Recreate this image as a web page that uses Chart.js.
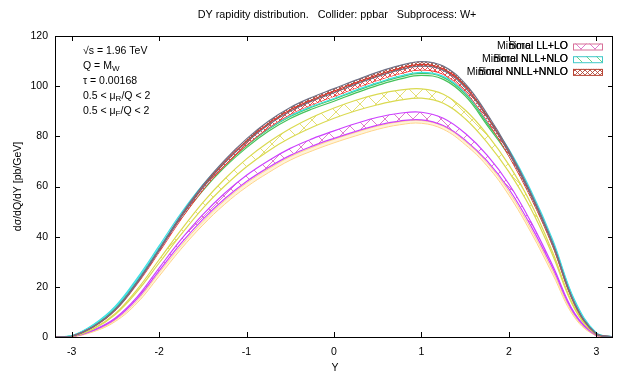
<!DOCTYPE html>
<html>
<head>
<meta charset="utf-8">
<script src="https://cdn.jsdelivr.net/npm/chart.js@4.4.1/dist/chart.umd.min.js"></script>
<style>
  html, body { margin: 0; padding: 0; background: #fff; }
  #wrap { width: 628px; height: 377px; position: relative; }
</style>
</head>
<body>
<div id="wrap"><canvas id="dyChart"></canvas></div>
<script>
/* DY rapidity distribution, W+ at the Tevatron - bands */

const rapidity = [-3.19, -3, -2.75, -2.5, -2.25, -2, -1.75, -1.5, -1.25, -1, -0.75, -0.5, -0.25,
                  0, 0.25, 0.5, 0.75, 1, 1.25, 1.5, 1.75, 2, 2.25, 2.5, 2.75, 3, 3.19];

const orangeUp  = [0, 0.08, 2.4, 6.8, 14.6, 25.6, 36.4, 46, 54.4, 61.4, 67, 71.9, 75.6, 78.8, 81.6, 84.1, 85.8, 86.3, 84, 78, 69.5, 58, 43.2, 26.4, 8.5, 0.5, 0];
const orangeLow = [0, 0.05, 2.1, 6.2, 13.6, 24.2, 35, 44.6, 52.9, 59.8, 65.5, 70.5, 74.2, 77.4, 80.2, 82.8, 84.6, 85.2, 82.8, 76.7, 68.2, 56.5, 41.8, 25, 7.8, 0.4, 0];

const magentaUp  = [0, 0.1, 2.8, 7.6, 16, 27.5, 38.8, 48.8, 57.3, 64.5, 70.3, 75.2, 79, 82.2, 85.1, 87.6, 89.2, 89.6, 87.2, 81.2, 72.5, 61, 46, 28.5, 9.5, 0.7, 0];
const magentaLow = [0, 0.1, 2.6, 7.2, 15.3, 26.4, 37.3, 46.9, 55.1, 62, 67.6, 72.4, 76.1, 79.2, 82, 84.5, 86.1, 86.6, 84.3, 78.5, 70.2, 59, 44.4, 27.5, 9.1, 0.6, 0];

const yellowUp  = [0, 0.2, 3.4, 9.4, 19, 30.8, 42.6, 53.6, 63, 71, 77.6, 83.1, 87.6, 91.3, 94.4, 96.8, 98.4, 98.9, 96.8, 90.5, 80.8, 68.6, 53.3, 33.8, 11.8, 0.9, 0];
const yellowLow = [0, 0.15, 3.2, 9, 18.2, 29.5, 40.8, 51.3, 60.2, 67.9, 74.2, 79.4, 83.6, 87.2, 90.2, 92.6, 94.4, 95.2, 93.2, 87, 77.6, 65.8, 51.2, 32.6, 11.3, 0.85, 0];

const greenUp  = [0, 0.4, 4.5, 11.5, 22.4, 35, 47.8, 59.1, 68.4, 76.2, 82.8, 87.9, 91.7, 94.8, 98.1, 101.1, 103.6, 105.1, 103.5, 96.9, 85.3, 73, 56.6, 37.2, 13.8, 1.3, 0];
const greenLow = [0, 0.35, 4.3, 11.2, 22, 34.5, 47.2, 58.4, 67.7, 75.5, 82, 87.1, 90.9, 94, 97.3, 100.3, 102.8, 104.3, 102.7, 96.1, 84.5, 72.2, 55.8, 36.6, 13.4, 1.25, 0];

const cyanUp  = [0, 0.5, 5.0, 12.3, 23.5, 36.3, 49.3, 60.6, 70, 78, 84.6, 89.7, 93.6, 96.7, 100, 103, 105.6, 107.2, 105.6, 99, 87.5, 74.8, 58.5, 38.8, 14.8, 1.6, 0];
const cyanLow = [0, 0.45, 4.8, 11.9, 22.9, 35.5, 48.3, 59.5, 68.8, 76.6, 83.1, 88.2, 92, 95.1, 98.4, 101.4, 104, 105.5, 103.9, 97.4, 86, 73.6, 57.5, 38, 14.4, 1.5, 0];

const redUp  = [0, 0.3, 4.15, 10.9, 21.8, 34.7, 48, 59.9, 69.8, 78.2, 85.1, 90.6, 94.6, 98, 101.4, 104.5, 107.1, 108.7, 106.9, 100, 88.1, 73.8, 56.9, 37.1, 13.4, 1.2, 0];
const redLow = [0, 0.3, 4.05, 10.7, 21.3, 33.9, 47, 58.7, 68.4, 76.6, 83.4, 88.8, 92.7, 96, 99.3, 102.4, 105, 106.5, 104.8, 98, 86.3, 72.3, 55.8, 36.4, 13.1, 1.15, 0];

const greyUp  = [0, 0.3, 4.2, 11, 22, 35, 48.5, 60.5, 70.5, 79, 86, 91.5, 95.6, 99, 102.4, 105.6, 108.2, 109.8, 108, 101, 89, 74.5, 57.5, 37.5, 13.5, 1.2, 0];
const greyLow = [0, 0.3, 4.1, 10.8, 21.6, 34.4, 47.7, 59.5, 69.4, 77.7, 84.6, 90, 94.1, 97.4, 100.8, 103.9, 106.5, 108, 106.3, 99.4, 87.6, 73.3, 56.6, 36.9, 13.3, 1.2, 0];

const xTickValues = [-3, -2, -1, 0, 1, 2, 3];
const yTickValues = [0, 20, 40, 60, 80, 100, 120];

const legendOrders = ['LL+LO', 'NLL+NLO', 'NNLL+NNLO'];

const FONT = '"Liberation Sans", Arial, sans-serif';

// gnuplot-ish pattern fills
function makeHatch(color, size, bg, kind) {
    const c = document.createElement('canvas');
    c.width = size; c.height = size;
    const g = c.getContext('2d');
    if (bg) { g.fillStyle = bg; g.fillRect(0, 0, size, size); }
    g.strokeStyle = color;
    g.lineWidth = 1;
    g.beginPath();
    g.moveTo(0, 0); g.lineTo(size, size);
    if (kind !== 'diag') { g.moveTo(size, 0); g.lineTo(0, size); }
    g.stroke();
    return g.createPattern(c, 'repeat');
}

const patMagenta = makeHatch('rgba(220,110,200,0.9)', 14, null);
const patYellow  = makeHatch('rgba(225,220,100,0.9)', 16, null);
const patRed     = makeHatch('rgba(230,60,60,0.9)', 5, '#fff');
const patGrey    = makeHatch('rgba(170,80,60,0.9)', 4, null);
const patCyan    = makeHatch('rgba(90,210,120,0.9)', 10, null, 'diag');

function band(label, up, low, lineColor, fill, width) {
    const w = width || 1.2;
    return [
        { label: label + ' up', data: rapidity.map((x, i) => ({ x, y: up[i] })),
          borderColor: lineColor, borderWidth: w, pointRadius: 0, fill: '+1',
          backgroundColor: fill, tension: 0.4 },
        { label: label + ' low', data: rapidity.map((x, i) => ({ x, y: low[i] })),
          borderColor: lineColor, borderWidth: w, pointRadius: 0, fill: false,
          tension: 0.4 }
    ];
}

const datasets = [
    ...band('grey', greyUp, greyLow, '#6f7288', patGrey),
    ...band('red', redUp, redLow, '#ff2a2a', patRed),
    ...band('cyan', cyanUp, cyanLow, '#3fe0e6', patCyan),
    ...band('green', greenUp, greenLow, '#45c25a', 'rgba(0,0,0,0)'),
    ...band('yellow', yellowUp, yellowLow, '#dada50', patYellow),
    ...band('magenta', magentaUp, magentaLow, '#cc40ff', patMagenta),
    ...band('orange', orangeUp, orangeLow, '#ffd489', 'rgba(255,220,150,0.35)', 1)
];

function line(ctx, x1, y1, x2, y2) {
    ctx.beginPath(); ctx.moveTo(x1, y1); ctx.lineTo(x2, y2); ctx.stroke();
}

// text with subscripts: parts = [[text, isSub], ...]
function richText(ctx, parts, x, y) {
    let cx = x;
    parts.forEach(([t, sub]) => {
        ctx.font = (sub ? '8px ' : '10.5px ') + FONT;
        ctx.fillText(t, cx, y + (sub ? 3 : 0));
        cx += ctx.measureText(t).width;
    });
}

const overlay = {
    id: 'overlay',
    afterDraw(chart) {
        const { ctx, chartArea: a, scales: { x, y } } = chart;
        ctx.save();
        ctx.strokeStyle = '#000';
        ctx.fillStyle = '#000';
        ctx.lineWidth = 1;
        ctx.strokeRect(a.left + 0.5, a.top + 0.5, a.right - a.left - 1, a.bottom - a.top);

        // inward ticks on all four sides
        xTickValues.forEach(v => {
            const px = Math.round(x.getPixelForValue(v)) + 0.5;
            line(ctx, px, a.bottom, px, a.bottom - 5);
            line(ctx, px, a.top, px, a.top + 5);
        });
        yTickValues.forEach(v => {
            const py = Math.round(y.getPixelForValue(v)) + 0.5;
            line(ctx, a.left, py, a.left + 5, py);
            line(ctx, a.right, py, a.right - 5, py);
        });

        // title
        ctx.font = '10.8px ' + FONT;
        ctx.textAlign = 'center';
        ctx.textBaseline = 'middle';
        ctx.fillText('DY rapidity distribution.   Collider: ppbar   Subprocess: W+', 337, 15);

        // axis titles
        ctx.font = '10.5px ' + FONT;
        ctx.fillText('Y', 335, 368);
        ctx.save();
        ctx.translate(18, (a.top + a.bottom) / 2);
        ctx.rotate(-Math.PI / 2);
        ctx.fillText('dσ/dQ/dY [pb/GeV]', 0, 0);
        ctx.restore();

        // parameter block
        ctx.textAlign = 'left';
        richText(ctx, [['√s = 1.96 TeV', false]], 83, 51);
        richText(ctx, [['Q = M', false], ['W', true]], 83, 66);
        richText(ctx, [['τ = 0.00168', false]], 83, 81);
        richText(ctx, [['0.5 < μ', false], ['R', true], ['/Q < 2', false]], 83, 96);
        richText(ctx, [['0.5 < μ', false], ['F', true], ['/Q < 2', false]], 83, 111);

        // legend: Minimal and Borel labels land on the same spot, as in the original
        const keyStyles = [
            { border: '#d87098', fill: patMagenta },
            { border: '#40c8c8', fill: patCyan },
            { border: '#b84535', fill: makeHatch('rgba(180,70,55,0.9)', 5, '#fff') }
        ];
        ctx.font = '10.5px ' + FONT;
        ctx.textAlign = 'right';
        legendOrders.forEach((ord, i) => {
            const ly = 46.5 + i * 12.7;
            ctx.fillStyle = '#000';
            ctx.fillText('Minimal ' + ord, 568, ly);
            ctx.fillText('Borel ' + ord, 568, ly);
            ctx.fillStyle = keyStyles[i].fill;
            ctx.fillRect(573, ly - 3, 29, 6);
            ctx.strokeStyle = keyStyles[i].border;
            ctx.strokeRect(573.5, ly - 2.5, 29, 6);
        });
        ctx.restore();
    }
};

new Chart(document.getElementById('dyChart').getContext('2d'), {
    type: 'line',
    data: { datasets },
    options: {
        responsive: true,
        maintainAspectRatio: false,
        animation: false,
        devicePixelRatio: 1,
        layout: { padding: { top: 36, right: 15, left: 0, bottom: 0 } },
        plugins: {
            legend: { display: false },
            title: { display: false },
            tooltip: { enabled: false }
        },
        scales: {
            x: {
                type: 'linear',
                min: -3.19,
                max: 3.19,
                afterBuildTicks: s => { s.ticks = xTickValues.map(v => ({ value: v })); },
                afterFit: s => { s.height = 40; },
                grid: { display: false, drawTicks: false },
                border: { display: false },
                ticks: { color: '#000', font: { size: 10.5, family: FONT }, padding: 9, maxRotation: 0 }
            },
            y: {
                min: 0,
                max: 120,
                afterBuildTicks: s => { s.ticks = yTickValues.map(v => ({ value: v })); },
                afterFit: s => { s.width = 55; },
                grid: { display: false, drawTicks: false },
                border: { display: false },
                ticks: { color: '#000', font: { size: 10.5, family: FONT }, padding: 7 }
            }
        }
    },
    plugins: [overlay]
});
</script>
</body>
</html>
